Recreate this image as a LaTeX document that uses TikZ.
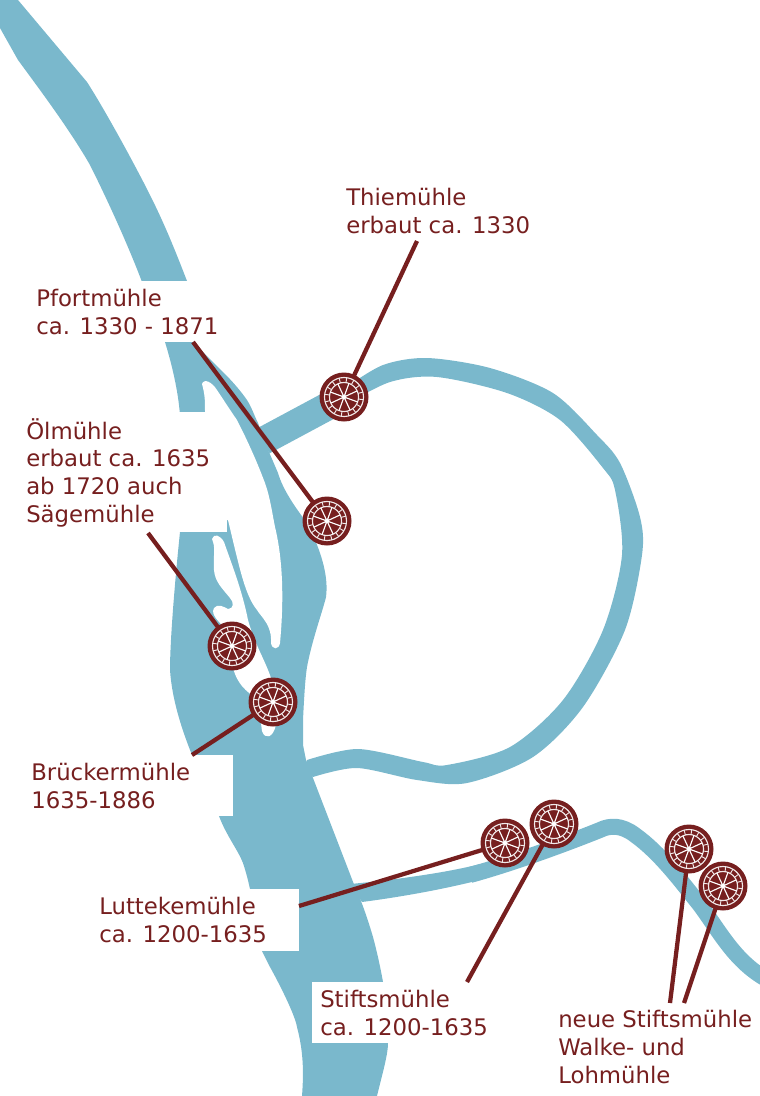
\documentclass[tikz,border=0pt]{standalone}
\usepackage{fontspec}
\setmainfont{DejaVu Sans}
\definecolor{riv}{HTML}{7AB8CC}
\definecolor{mill}{HTML}{761F1F}
\newcommand{\wheel}[1]{%
 \begin{scope}[shift={(#1)}]
  \fill[mill] (0,0) circle (24.5);
  \draw[white!90!mill,line width=0.85pt] (0,0) circle (19.5);
  \draw[white!90!mill,line width=0.85pt] (0,0) circle (14.5);
  \foreach \a in {0,22.5,...,337.5} \draw[white!90!mill,line width=0.7pt] (\a+8:14.5) -- (\a+8:19.5);
  \foreach \a in {20,65,...,335} \draw[white,line width=0.85pt] (0,0) -- (\a:14.5);
  \fill[white] (0,0) circle (2.3);
 \end{scope}}
\tikzset{
 lab/.style={anchor=north west,inner sep=0pt,text=mill,font=\fontsize{17.1pt}{20.8pt}\selectfont,align=left},
 lnk/.style={draw=mill,line width=3.2pt},
 stream/.style={draw=riv,line join=round},
 box/.style={fill=white,draw=none}
}
\begin{document}
\begin{tikzpicture}[x=0.75pt,y=-0.75pt]
\useasboundingbox (0,0) rectangle (760,1096);
% main river
\fill[riv] (0,28) -- (18,60) .. controls (40,90) and (70,130) .. (90,165)
 .. controls (110,205) and (130,250) .. (142,282) -- (165,342)
 .. controls (172,365) and (178,390) .. (180,415) -- (180,532)
 .. controls (175,580) and (170,640) .. (170,670)
 .. controls (172,700) and (182,730) .. (192,755) -- (219,816)
 .. controls (226,835) and (238,850) .. (243,863)
 .. controls (246,872) and (248,880) .. (250,889) -- (262,951)
 -- (270,967) .. controls (280,985) and (295,1015) .. (297,1027)
 .. controls (303,1050) and (304,1070) .. (302,1096) -- (377,1096)
 .. controls (382,1075) and (388,1055) .. (388,1043) -- (383,982)
 .. controls (380,965) and (376,948) .. (373,937)
 .. controls (368,920) and (362,902) .. (355,887) -- (313,778)
 -- (306,760) -- (303,745) -- (303,720) .. controls (304,700) and (305,680) .. (307,667)
 .. controls (312,640) and (323,610) .. (326,597)
 .. controls (329,575) and (320,548) .. (307,523)
 .. controls (295,507) and (283,490) .. (278,473)
 -- (269,452) -- (258,423) .. controls (254,415) and (252,408) .. (247,400)
 .. controls (240,390) and (232,381) .. (223,372) -- (193,342) -- (187,281)
 .. controls (175,250) and (165,225) .. (150,195)
 .. controls (135,165) and (105,110) .. (87,82) -- (18,0) -- (0,0) -- cycle;
% branches
\draw[stream,line width=21pt] (263,441) -- (345,397);
\fill[riv] plot[smooth] coordinates {(345,388) (383,365) (427,358) (490,368) (553,393) (597,435) (620,463) (640,517) (642,555) (625,630) (583,707) (533,757) (467,783) (417,780) (357,768) (313,777)}
 -- (303,770) -- plot[smooth] coordinates {(307,760) (358,749) (423,762) (447,765) (510,747) (563,700) (603,630) (622,555) (615,490) (603,468) (560,420) (507,393) (437,377) (390,382) (345,405)} -- cycle;
\fill[riv] (350,884) .. controls (395,880) and (450,872) .. (480,864) -- (480,880)
 .. controls (440,890) and (400,897) .. (362,902) -- cycle;
\draw[stream,line width=12pt] (470,875) .. controls (510,864) and (560,846) .. (600,830)
 .. controls (610,825) and (622,825) .. (635,835)
 .. controls (660,853) and (680,880) .. (700,905)
 .. controls (720,932) and (735,962) .. (768,980);
% islands
\fill[white] (202,384) .. controls (204,378) and (212,382) .. (217,390)
 .. controls (225,402) and (230,410) .. (237,420)
 .. controls (242,430) and (246,438) .. (250,447)
 .. controls (256,460) and (260,470) .. (265,483)
 .. controls (270,497) and (272,512) .. (275,527)
 .. controls (283,560) and (284,600) .. (280,643)
 .. controls (279,650) and (272,650) .. (271,643)
 .. controls (272,625) and (262,618) .. (257,610)
 .. controls (245,595) and (240,570) .. (228,520) -- (190,520) -- (205,412)
 .. controls (205,400) and (205,395) .. (202,384) -- cycle;
\fill[white] (212,539) .. controls (214,533) and (220,535) .. (224,542)
 .. controls (232,565) and (242,590) .. (248,620)
 .. controls (255,645) and (265,660) .. (271,678) -- (276,725)
 .. controls (273,738) and (265,740) .. (262,731) -- (258,700)
 .. controls (245,690) and (238,685) .. (233,668) -- (226,630)
 .. controls (220,622) and (210,615) .. (214,608)
 .. controls (218,603) and (224,607) .. (228,609)
 .. controls (234,609) and (234,602) .. (230,598)
 .. controls (222,588) and (215,582) .. (214,570)
 .. controls (213,555) and (216,548) .. (212,539) -- cycle;
% label backgrounds
\fill[box] (33,281) rectangle (200,342);
\fill[box] (20,412) rectangle (227,532);
\fill[box] (24,755) rectangle (233,816);
\fill[box] (90,889) rectangle (299,951);
\fill[box] (312,982) rectangle (467,1043);
% labels
\node[lab] (thie) at (346,188) {Thiemühle\\erbaut ca. 1330};
\node[lab] (pfort) at (36,289) {Pfortmühle\\ca. 1330 - 1871};
\node[lab] (oel) at (26,418) {Ölmühle\\erbaut ca. 1635\\ab 1720 auch\\Sägemühle};
\node[lab] (brue) at (31,763) {Brückermühle\\1635-1886};
\node[lab] (lutt) at (99,897) {Luttekemühle\\ca. 1200-1635};
\node[lab] (stift) at (320,990) {Stiftsmühle\\ca. 1200-1635};
\node[lab] (neue) at (558,1010) {neue Stiftsmühle\\Walke- und\\Lohmühle};
% mill positions
\coordinate (m1) at (344,397);
\coordinate (m2) at (327,521);
\coordinate (m3) at (232,646);
\coordinate (m4) at (273,702);
\coordinate (m5) at (505,843);
\coordinate (m6) at (554,824);
\coordinate (m7) at (689,849);
\coordinate (m8) at (723,886);
\coordinate (e1) at (417,241);
\coordinate (e2) at (193,342);
\coordinate (e3) at (148,533);
\coordinate (e4) at (192,755);
\coordinate (e5) at (299,906);
\coordinate (e6) at (467,982);
\coordinate (e7) at (670,1003);
\coordinate (e8) at (684,1003);
% connectors
\draw[lnk] (e1) -- (m1);
\draw[lnk] (e2) -- (m2);
\draw[lnk] (e3) -- (m3);
\draw[lnk] (e4) -- (m4);
\draw[lnk] (e5) -- (m5);
\draw[lnk] (e6) -- (m6);
\draw[lnk] (e7) -- (m7);
\draw[lnk] (e8) -- (m8);
\wheel{m1}\wheel{m2}\wheel{m3}\wheel{m4}\wheel{m5}\wheel{m6}\wheel{m7}\wheel{m8}
\end{tikzpicture}
\end{document}
